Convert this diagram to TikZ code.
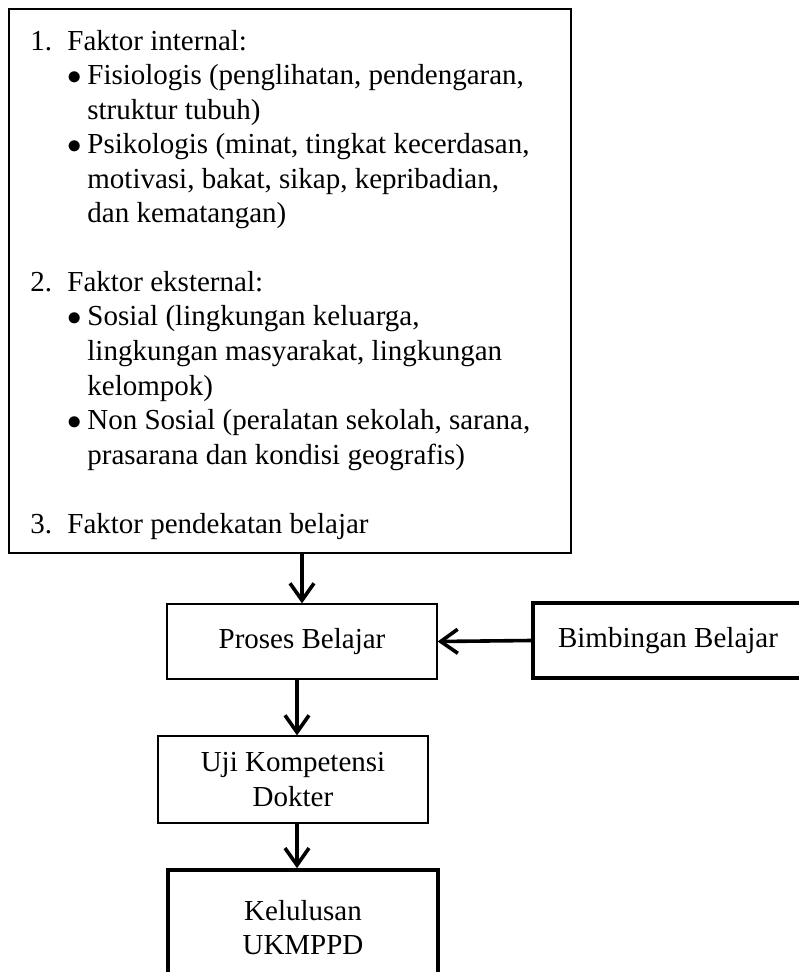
\documentclass[tikz,border=0pt]{standalone}
\usepackage{fontspec}
\setmainfont{Liberation Serif}
\usetikzlibrary{arrows.meta}

\begin{document}
\begin{tikzpicture}[x=0.5pt,y=-0.5pt,
                every node/.style={font=\fontsize{14.5}{17.2}\selectfont},
                txt/.style={anchor=base west,inner sep=0pt},
                thinbox/.style={draw,line width=0.6pt,minimum width=135pt,align=center},
                thickbox/.style={draw,line width=1.8pt,minimum width=135pt,align=center},
                arr/.style={line width=1.8pt,-{Straight Barb[length=8.5pt,width=12pt]}}]
  \useasboundingbox (0,0) rectangle (798,972);

  % factor box
  \node[draw,line width=0.6pt,minimum width=281pt,minimum height=272pt] (faktor) at (290,281) {};
  \node[txt] (n1) at (30,51)  {1.};
  \node[txt] (t1) at (67,51)  {Faktor internal:};
  \node[txt] (b1) at (67,85)  {$\bullet$};
  \node[txt] (t2) at (87,85)  {Fisiologis (penglihatan, pendengaran,};
  \node[txt] (t3) at (87,120) {struktur tubuh)};
  \node[txt] (b2) at (67,154) {$\bullet$};
  \node[txt] (t4) at (87,154) {Psikologis (minat, tingkat kecerdasan,};
  \node[txt] (t5) at (87,189) {motivasi, bakat, sikap, kepribadian,};
  \node[txt] (t6) at (87,223) {dan kematangan)};
  \node[txt] (n2) at (30,292) {2.};
  \node[txt] (t7) at (67,292) {Faktor eksternal:};
  \node[txt] (b3) at (67,326) {$\bullet$};
  \node[txt] (t8) at (87,326) {Sosial (lingkungan keluarga,};
  \node[txt] (t9) at (87,361) {lingkungan masyarakat, lingkungan};
  \node[txt] (t10) at (87,395) {kelompok)};
  \node[txt] (b4) at (67,429) {$\bullet$};
  \node[txt] (t11) at (87,429) {Non Sosial (peralatan sekolah, sarana,};
  \node[txt] (t12) at (87,464) {prasarana dan kondisi geografis)};
  \node[txt] (n3) at (30,533) {3.};
  \node[txt] (t13) at (67,533) {Faktor pendekatan belajar};

  % flow
  \node[thinbox,minimum height=37.5pt]  (proses)    at (302,641.5) {Proses Belajar};
  \node[thickbox,minimum height=37.5pt] (bimbingan) at (668,640.5) {Bimbingan Belajar};
  \node[thinbox,minimum height=43.5pt]  (uji)       at (293,779.5) {Uji Kompetensi\\Dokter};
  \node[thickbox,minimum height=57.5pt] (lulus)     at (303,927.5) {Kelulusan\\UKMPPD};

  \draw[arr] (proses.north |- faktor.south) -- (proses.north);
  \draw[arr] (bimbingan.west) -- (proses.east);
  \draw[arr] ([xshift=-2.5pt]proses.south) -- ([xshift=-2.5pt]proses.south |- uji.north);
  \draw[arr] ([xshift=2pt]uji.south) -- ([xshift=2pt]uji.south |- lulus.north);
\end{tikzpicture}
\end{document}
